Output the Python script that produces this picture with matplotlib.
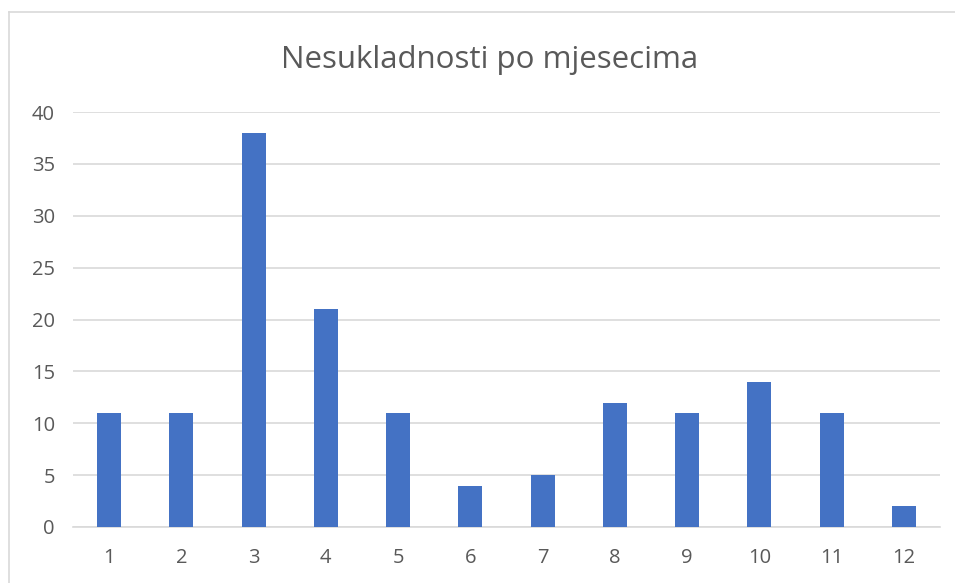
import matplotlib
matplotlib.use("Agg")
import matplotlib.pyplot as plt
from matplotlib.lines import Line2D

months = ["1", "2", "3", "4", "5", "6", "7", "8", "9", "10", "11", "12"]
values = [11, 11, 38, 21, 11, 4, 5, 12, 11, 14, 11, 2]
yticks = [0, 5, 10, 15, 20, 25, 30, 35, 40]
title = "Nesukladnosti po mjesecima"

plt.rcParams['font.family'] = ['Open Sans', 'DejaVu Sans']
fig = plt.figure(figsize=(9.55, 5.83), dpi=100)
ax = fig.add_axes([73/955, 1-527/583, (940-73)/955, (527-112)/583])

x = list(range(len(months)))
ax.bar(x, values, width=0.33, color="#4472C4", zorder=3)
ax.set_xlim(-0.5, len(months)-0.5)
ax.set_ylim(0, 40)
ax.set_yticks(yticks)
ax.set_xticks(x)
ax.set_xticklabels(months)
ax.yaxis.grid(True, color="#D9D9D9", linewidth=1.2, zorder=0)
for s in ["top", "right", "left"]:
    ax.spines[s].set_visible(False)
ax.spines["bottom"].set_color("#D9D9D9")
ax.spines["bottom"].set_linewidth(1.2)
ax.tick_params(axis="both", length=0, colors="#595959", labelsize=14.5)
ax.tick_params(axis="y", pad=13)
ax.tick_params(axis="x", pad=15)

fig.text(490/955, 1-60/583, title, ha="center", va="center", fontsize=22.5, color="#595959")

# chart border (top and left visible)
fig.add_artist(Line2D([9/955, 9/955], [0, 1-12/583], transform=fig.transFigure, color="#D9D9D9", linewidth=1.2))
fig.add_artist(Line2D([9/955, 1], [1-12/583, 1-12/583], transform=fig.transFigure, color="#D9D9D9", linewidth=1.2))

fig.savefig("out.png", dpi=100)
